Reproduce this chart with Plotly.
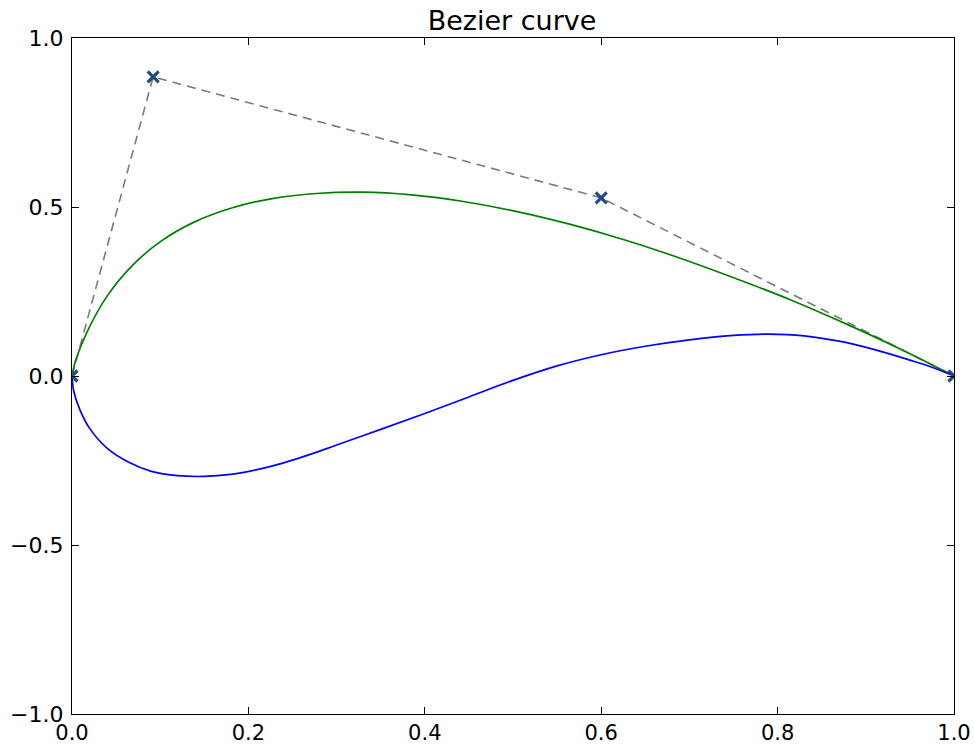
import plotly.graph_objects as go

# Control polygon
ctrl_x = [0.0, 0.092, 0.600, 1.0]
ctrl_y = [0.0, 0.885, 0.527, 0.0]

# Green (upper) curve
green_x = [0.0, 0.004, 0.017, 0.040, 0.068, 0.101, 0.139, 0.181, 0.227, 0.277,
           0.329, 0.385, 0.442, 0.502, 0.563, 0.625, 0.688, 0.751, 0.815, 0.877,
           0.939, 1.0]
green_y = [0.0, 0.045, 0.130, 0.237, 0.326, 0.399, 0.456, 0.497, 0.525, 0.540,
           0.544, 0.536, 0.517, 0.488, 0.450, 0.404, 0.350, 0.290, 0.225, 0.155,
           0.080, 0.0]

# Blue (lower) curve
blue_x = [0.0, 0.002, 0.009, 0.020, 0.040, 0.065, 0.090, 0.120, 0.150, 0.180,
          0.210, 0.240, 0.270, 0.300, 0.350, 0.400, 0.450, 0.500, 0.550, 0.600,
          0.650, 0.700, 0.750, 0.790, 0.830, 0.870, 0.910, 0.950, 0.975, 1.0]
blue_y = [0.0, -0.045, -0.100, -0.155, -0.214, -0.256, -0.282, -0.295, -0.297, -0.291,
          -0.277, -0.257, -0.232, -0.204, -0.158, -0.111, -0.062, -0.013, 0.030, 0.063,
          0.088, 0.107, 0.120, 0.124, 0.119, 0.103, 0.078, 0.047, 0.026, 0.0]

x_ticks = [0.0, 0.2, 0.4, 0.6, 0.8, 1.0]
y_ticks = [-1.0, -0.5, 0.0, 0.5, 1.0]

fig = go.Figure()
fig.add_trace(go.Scatter(x=ctrl_x, y=ctrl_y, mode="lines",
                         line=dict(color="#7a7a7a", width=1.6, dash="9px,6px"),
                         showlegend=False, hoverinfo="skip"))
fig.add_trace(go.Scatter(x=green_x, y=green_y, mode="lines", line_shape="spline",
                         line=dict(color="#008000", width=1.7), showlegend=False))
fig.add_trace(go.Scatter(x=blue_x, y=blue_y, mode="lines", line_shape="spline",
                         line=dict(color="#0000ff", width=1.7), showlegend=False))
fig.add_trace(go.Scatter(x=ctrl_x, y=ctrl_y, mode="markers",
                         marker=dict(symbol="x-thin", size=11,
                                     line=dict(color="#1f4b85", width=3.2)),
                         showlegend=False))

axis_common = dict(showgrid=False, zeroline=False, showline=True, linecolor="black",
                   linewidth=1.2, mirror="ticks", ticks="inside", ticklen=7,
                   tickwidth=1, tickcolor="black", tickformat=".1f",
                   automargin=False)

fig.update_layout(
    width=974, height=747,
    margin=dict(l=72, r=20, t=38, b=33),
    paper_bgcolor="white", plot_bgcolor="white",
    title=dict(text="Bezier curve", x=0.5257, xanchor="center",
               y=0.973, yanchor="middle",
               font=dict(family="DejaVu Sans", size=27, color="black")),
    xaxis=dict(range=[0, 1], tickvals=x_ticks, ticklabelstandoff=0,
               tickfont=dict(family="DejaVu Sans", size=21, color="black"),
               **axis_common),
    yaxis=dict(range=[-1, 1], tickvals=y_ticks, ticklabelstandoff=3,
               tickfont=dict(family="DejaVu Sans", size=22, color="black"),
               **axis_common),
)

fig.write_html("out.html")
